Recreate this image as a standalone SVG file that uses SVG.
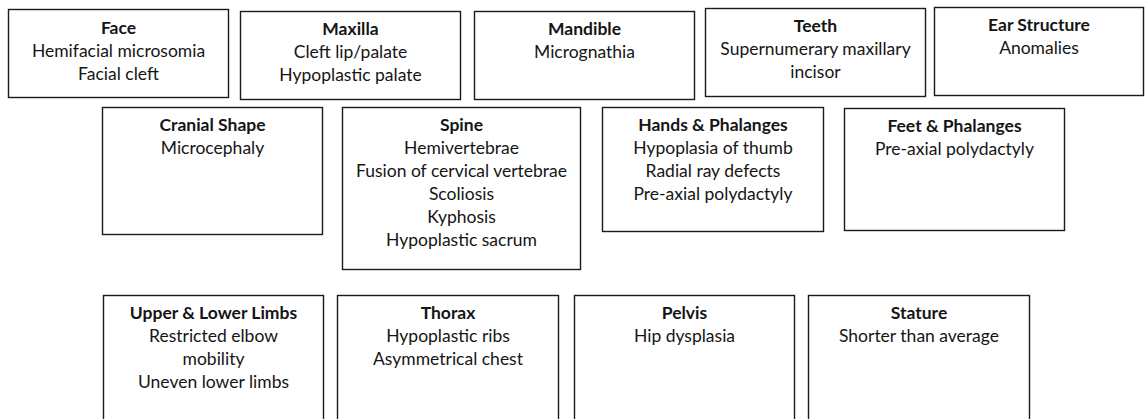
<svg xmlns="http://www.w3.org/2000/svg" width="1146" height="419" viewBox="0 0 1146 419">
<style>
rect.box{fill:#fff;stroke:#1a1a1a;stroke-width:1.4}
text{font-family:Lato,"Open Sans","Liberation Sans",sans-serif;font-size:17.5px;fill:#151515;text-anchor:middle}
text.t{font-weight:bold}
</style>
<rect width="1146" height="419" fill="#fff"/>
<g id="face"><rect class="box" x="8.5" y="9.5" width="220" height="88"/>
<text class="t" x="118.5" y="33.5">Face</text><text x="118.5" y="56.5">Hemifacial microsomia</text><text x="118.5" y="79.5">Facial cleft</text></g>
<g id="maxilla"><rect class="box" x="240.5" y="11.5" width="220" height="88"/>
<text class="t" x="350.5" y="34.5">Maxilla</text><text x="350.5" y="57.5">Cleft lip/palate</text><text x="350.5" y="80.5">Hypoplastic palate</text></g>
<g id="mandible"><rect class="box" x="474.5" y="11.5" width="220" height="88"/>
<text class="t" x="584.5" y="34.5">Mandible</text><text x="584.5" y="57.5">Micrognathia</text></g>
<g id="teeth"><rect class="box" x="705.5" y="8.5" width="220" height="88"/>
<text class="t" x="815.5" y="31.5">Teeth</text><text x="815.5" y="54.5">Supernumerary maxillary</text><text x="815.5" y="77.5">incisor</text></g>
<g id="ear"><rect class="box" x="934.5" y="7.5" width="209" height="88"/>
<text class="t" x="1039" y="30.5">Ear Structure</text><text x="1039" y="53.5">Anomalies</text></g>
<g id="cranial"><rect class="box" x="102.5" y="107.5" width="220" height="127"/>
<text class="t" x="212.5" y="130.5">Cranial Shape</text><text x="212.5" y="153.5">Microcephaly</text></g>
<g id="spine"><rect class="box" x="342.5" y="107.5" width="238" height="162"/>
<text class="t" x="461.5" y="130.5">Spine</text><text x="461.5" y="153.5">Hemivertebrae</text><text x="461.5" y="176.5">Fusion of cervical vertebrae</text><text x="461.5" y="199.5">Scoliosis</text><text x="461.5" y="222.5">Kyphosis</text><text x="461.5" y="245.5">Hypoplastic sacrum</text></g>
<g id="hands"><rect class="box" x="602.5" y="107.5" width="221" height="124"/>
<text class="t" x="713" y="130.5">Hands &amp; Phalanges</text><text x="713" y="153.5">Hypoplasia of thumb</text><text x="713" y="176.5">Radial ray defects</text><text x="713" y="199.5">Pre-axial polydactyly</text></g>
<g id="feet"><rect class="box" x="844.5" y="108.5" width="220" height="122"/>
<text class="t" x="954.5" y="131.5">Feet &amp; Phalanges</text><text x="954.5" y="154.5">Pre-axial polydactyly</text></g>
<g id="limbs"><rect class="box" x="103.5" y="295.5" width="220" height="140"/>
<text class="t" x="213.5" y="319">Upper &amp; Lower Limbs</text><text x="213.5" y="342">Restricted elbow</text><text x="213.5" y="365">mobility</text><text x="213.5" y="388">Uneven lower limbs</text></g>
<g id="thorax"><rect class="box" x="337.5" y="295.5" width="221" height="140"/>
<text class="t" x="448" y="319">Thorax</text><text x="448" y="342">Hypoplastic ribs</text><text x="448" y="365">Asymmetrical chest</text></g>
<g id="pelvis"><rect class="box" x="574.5" y="295.5" width="220" height="140"/>
<text class="t" x="684.5" y="319">Pelvis</text><text x="684.5" y="342">Hip dysplasia</text></g>
<g id="stature"><rect class="box" x="808.5" y="295.5" width="221" height="140"/>
<text class="t" x="919" y="319">Stature</text><text x="919" y="342">Shorter than average</text></g>
<g id="connectors"></g>
</svg>
